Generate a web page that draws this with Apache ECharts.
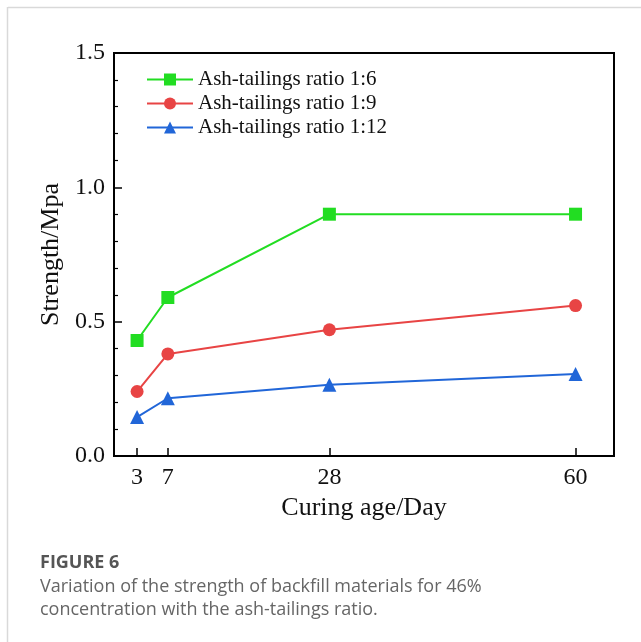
<!DOCTYPE html>
<html>
<head>
<meta charset="utf-8">
<script src="https://cdn.jsdelivr.net/npm/echarts@6/dist/echarts.min.js"></script>
<style>html,body{margin:0;padding:0;background:#fff;}#c{width:641px;height:642px;}</style>
</head>
<body>
<div id="c"></div>
<script>
var days = [3, 7, 28, 60];
var ratio16 = [0.43, 0.59, 0.90, 0.90];
var ratio19 = [0.24, 0.38, 0.47, 0.56];
var ratio112 = [0.145, 0.215, 0.265, 0.305];
var seriesNames = ['Ash-tailings ratio 1:6', 'Ash-tailings ratio 1:9', 'Ash-tailings ratio 1:12'];
var seriesColors = ['#22dd22', '#e84444', '#2166d8'];
var seriesSymbols = ['rect', 'circle', 'triangle'];
var xTicks = [3, 7, 28, 60];
var captionTitle = 'FIGURE 6';
var captionLines = ['Variation of the strength of backfill materials for 46%', 'concentration with the ash-tailings ratio.'];

function pairs(xs, ys) { return xs.map(function (x, i) { return [x, ys[i]]; }); }
var allValues = [ratio16, ratio19, ratio112];
var serif = '"Liberation Serif", "Times New Roman", serif';

var chart = echarts.init(document.getElementById('c'), null, { renderer: 'canvas' });
chart.setOption({
  backgroundColor: '#fff',
  animation: false,
  grid: { left: 114, top: 53, right: 27, bottom: 186, show: true, borderColor: '#000', borderWidth: 2, backgroundColor: 'transparent' },
  legend: {
    orient: 'vertical', left: 141, top: 64,
    itemWidth: 46, itemHeight: 15, itemGap: 3,
    data: seriesNames,
    textStyle: { fontFamily: serif, fontSize: 21, color: '#111', lineHeight: 21 }
  },
  xAxis: {
    type: 'value', min: 0, max: 65,
    name: 'Curing age/Day', nameLocation: 'middle', nameGap: 39,
    nameTextStyle: { fontFamily: serif, fontSize: 26, color: '#111' },
    axisLine: { show: true, lineStyle: { color: '#000', width: 2 } },
    axisTick: { show: true, inside: true, length: 8, customValues: xTicks, lineStyle: { color: '#000', width: 1.5 } },
    axisLabel: { customValues: xTicks, fontFamily: serif, fontSize: 24, color: '#111', margin: 10 },
    splitLine: { show: false }
  },
  yAxis: {
    type: 'value', min: 0, max: 1.5, interval: 0.5,
    name: 'Strength/Mpa', nameLocation: 'middle', nameGap: 39,
    nameTextStyle: { fontFamily: serif, fontSize: 26, color: '#111' },
    axisLine: { show: true, lineStyle: { color: '#000', width: 2 } },
    axisTick: { show: true, inside: true, length: 8, lineStyle: { color: '#000', width: 1.5 } },
    minorTick: { show: true, splitNumber: 5, length: 4, lineStyle: { color: '#000', width: 1.2 } },
    axisLabel: { fontFamily: serif, fontSize: 24, color: '#111', margin: 9, formatter: function (v) { return v.toFixed(1); } },
    splitLine: { show: false }
  },
  series: seriesNames.map(function (n, i) {
    return {
      name: n, type: 'line', data: pairs(days, allValues[i]),
      symbol: seriesSymbols[i], symbolSize: i === 2 ? 14 : 13,
      color: seriesColors[i],
      lineStyle: { color: seriesColors[i], width: 2 },
      itemStyle: { color: seriesColors[i] }
    };
  }),
  graphic: [
    { type: 'line', shape: { x1: 8, y1: 7.5, x2: 641, y2: 7.5 }, style: { stroke: '#d9d9d9', lineWidth: 1.5 } },
    { type: 'line', shape: { x1: 7.5, y1: 7, x2: 7.5, y2: 642 }, style: { stroke: '#d9d9d9', lineWidth: 1.5 } },
    { type: 'text', left: 40, top: 554, style: { text: captionTitle, font: 'bold 18px "Open Sans", sans-serif', fill: '#555' } },
    { type: 'text', left: 40, top: 578, style: { text: captionLines[0], font: '18px "Open Sans", sans-serif', fill: '#666' } },
    { type: 'text', left: 40, top: 601, style: { text: captionLines[1], font: '18px "Open Sans", sans-serif', fill: '#666' } }
  ]
});
</script>
</body>
</html>
